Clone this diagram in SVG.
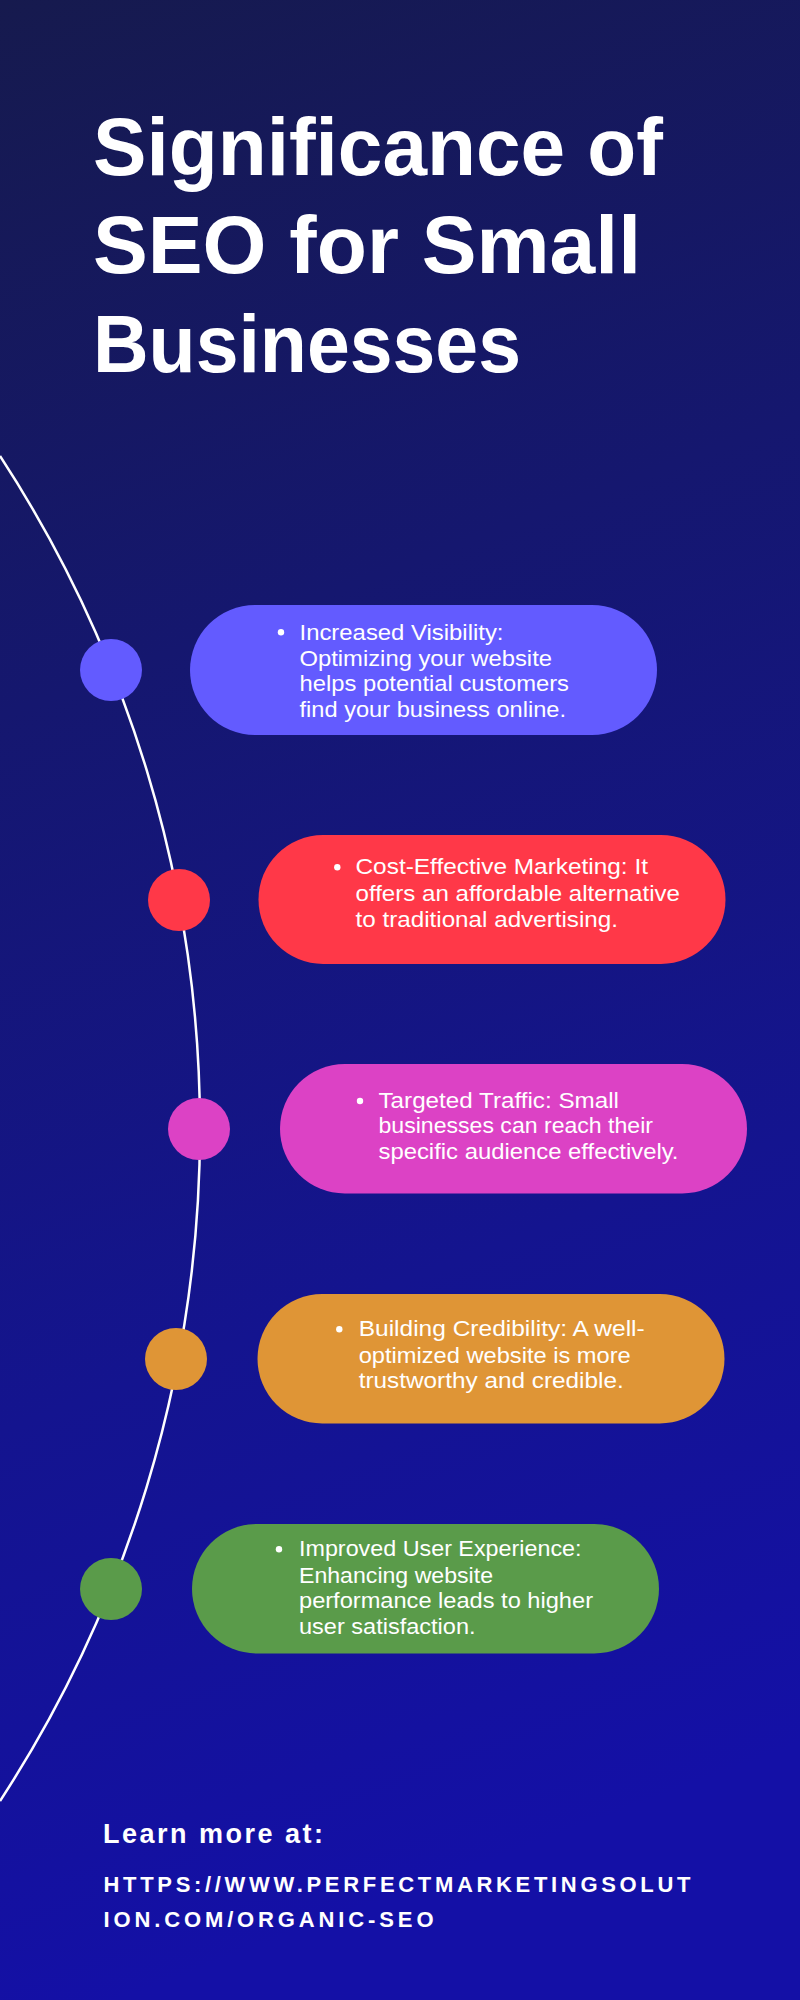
<svg xmlns="http://www.w3.org/2000/svg" width="800" height="2000" viewBox="0 0 800 2000">
  <defs>
    <linearGradient id="bg" x1="0" y1="0" x2="0.15" y2="1">
      <stop offset="0" stop-color="#161A4E"/>
      <stop offset="0.35" stop-color="#15176F"/>
      <stop offset="0.7" stop-color="#14148F"/>
      <stop offset="1" stop-color="#1410A6"/>
    </linearGradient>
    <style>
      .title { font-family: "Liberation Sans", Arial, sans-serif; font-weight: bold; font-size: 82px; fill: #FFFFFF; }
      .body { font-family: "Liberation Sans", Arial, sans-serif; font-size: 21.5px; fill: #FFFFFF; }
      .bullet { fill: #FFFFFF; }
      .learn { font-family: "Liberation Sans", Arial, sans-serif; font-weight: bold; font-size: 27px; fill: #FFFFFF; }
      .url { font-family: "Liberation Sans", Arial, sans-serif; font-weight: bold; font-size: 22px; fill: #FFFFFF; }
      .arc { fill: none; stroke: #FFFFFF; stroke-width: 2.5; }
    </style>
  </defs>

  <rect x="0" y="0" width="800" height="2000" fill="url(#bg)"/>

  <g id="title">
    <text class="title" x="93" y="175" textLength="570" lengthAdjust="spacingAndGlyphs">Significance of</text>
    <text class="title" x="93" y="273" textLength="548" lengthAdjust="spacingAndGlyphs">SEO for Small</text>
    <text class="title" x="93" y="372" textLength="428" lengthAdjust="spacingAndGlyphs">Businesses</text>
  </g>

  <g id="connectors">
    <path class="arc" d="M 0 456 A 1230.6 1230.6 0 0 1 0 1801"/>
  </g>

  <g id="node1">
    <circle cx="111" cy="670" r="31" fill="#635BFF"/>
    <rect x="190" y="605" width="467" height="130" rx="65" ry="65" fill="#635BFF"/>
    <circle class="bullet" cx="281" cy="632.3" r="3.2"/>
    <text class="body" x="299.5" y="640" textLength="204" lengthAdjust="spacingAndGlyphs">Increased Visibility:</text>
    <text class="body" x="299.5" y="665.7" textLength="252.5" lengthAdjust="spacingAndGlyphs">Optimizing your website</text>
    <text class="body" x="299.5" y="691.3" textLength="269.5" lengthAdjust="spacingAndGlyphs">helps potential customers</text>
    <text class="body" x="299.5" y="716.7" textLength="266.5" lengthAdjust="spacingAndGlyphs">find your business online.</text>
  </g>

  <g id="node2">
    <circle cx="179" cy="900" r="31" fill="#FF3848"/>
    <rect x="258.5" y="835" width="467" height="129" rx="64.5" ry="64.5" fill="#FF3848"/>
    <circle class="bullet" cx="337.3" cy="867.3" r="3.2"/>
    <text class="body" x="355.5" y="874.3" textLength="292.5" lengthAdjust="spacingAndGlyphs">Cost-Effective Marketing: It</text>
    <text class="body" x="355.5" y="900.7" textLength="324.5" lengthAdjust="spacingAndGlyphs">offers an affordable alternative</text>
    <text class="body" x="355.5" y="926.7" textLength="262.5" lengthAdjust="spacingAndGlyphs">to traditional advertising.</text>
  </g>

  <g id="node3">
    <circle cx="199" cy="1129" r="31" fill="#DC42C5"/>
    <rect x="280" y="1064" width="467" height="129.5" rx="64.75" ry="64.75" fill="#DC42C5"/>
    <circle class="bullet" cx="360" cy="1101" r="3.2"/>
    <text class="body" x="378.5" y="1107.7" textLength="240.5" lengthAdjust="spacingAndGlyphs">Targeted Traffic: Small</text>
    <text class="body" x="378.5" y="1133.3" textLength="274.5" lengthAdjust="spacingAndGlyphs">businesses can reach their</text>
    <text class="body" x="378.5" y="1159" textLength="300" lengthAdjust="spacingAndGlyphs">specific audience effectively.</text>
  </g>

  <g id="node4">
    <circle cx="176" cy="1359" r="31" fill="#DF9536"/>
    <rect x="257.5" y="1294" width="467" height="129.5" rx="64.75" ry="64.75" fill="#DF9536"/>
    <circle class="bullet" cx="339.3" cy="1329.3" r="3.2"/>
    <text class="body" x="358.7" y="1336" textLength="286" lengthAdjust="spacingAndGlyphs">Building Credibility: A well-</text>
    <text class="body" x="358.7" y="1362.7" textLength="272" lengthAdjust="spacingAndGlyphs">optimized website is more</text>
    <text class="body" x="358.7" y="1388.3" textLength="265" lengthAdjust="spacingAndGlyphs">trustworthy and credible.</text>
  </g>

  <g id="node5">
    <circle cx="111" cy="1589" r="31" fill="#5A9B4A"/>
    <rect x="192" y="1524" width="467" height="129.5" rx="64.75" ry="64.75" fill="#5A9B4A"/>
    <circle class="bullet" cx="279" cy="1549.3" r="3.2"/>
    <text class="body" x="299" y="1556" textLength="282.5" lengthAdjust="spacingAndGlyphs">Improved User Experience:</text>
    <text class="body" x="299" y="1582.7" textLength="194" lengthAdjust="spacingAndGlyphs">Enhancing website</text>
    <text class="body" x="299" y="1608.3" textLength="294" lengthAdjust="spacingAndGlyphs">performance leads to higher</text>
    <text class="body" x="299" y="1634" textLength="176.5" lengthAdjust="spacingAndGlyphs">user satisfaction.</text>
  </g>

  <g id="footer">
    <text class="learn" x="103" y="1843.3" textLength="220" lengthAdjust="spacing">Learn more at:</text>
    <text class="url" x="103.5" y="1891.7" textLength="587" lengthAdjust="spacing">HTTPS://WWW.PERFECTMARKETINGSOLUT</text>
    <text class="url" x="103.5" y="1927.3" textLength="330" lengthAdjust="spacing">ION.COM/ORGANIC-SEO</text>
  </g>
</svg>
